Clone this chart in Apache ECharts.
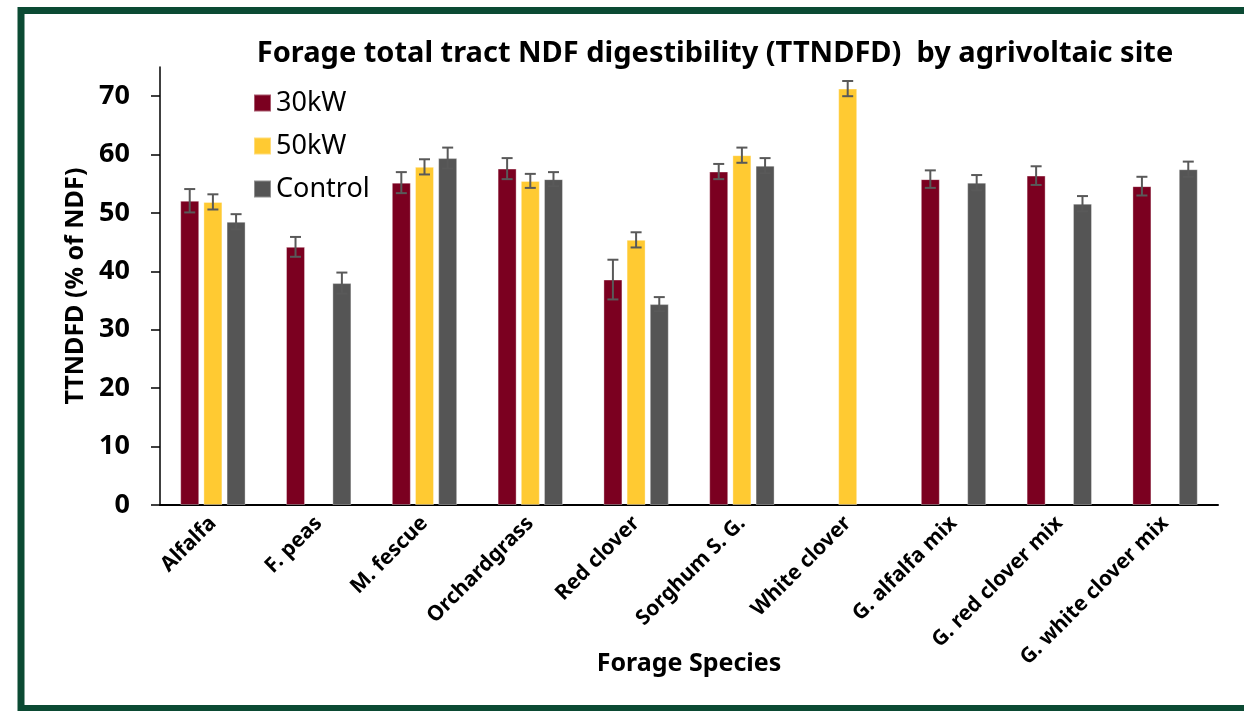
<!DOCTYPE html>
<html>
<head>
<meta charset="utf-8">
<script src="https://cdn.jsdelivr.net/npm/echarts@6/dist/echarts.min.js"></script>
<style>
  html, body { margin: 0; padding: 0; background: #fff; }
  #main { width: 1244px; height: 711px; }
</style>
</head>
<body>
<div id="main"></div>
<script>
// categories and values
const species = ['Alfalfa', 'F. peas', 'M. fescue', 'Orchardgrass', 'Red clover',
  'Sorghum S. G.', 'White clover', 'G. alfalfa mix', 'G. red clover mix', 'G. white clover mix'];
const kw30 = [52.1, 44.2, 55.2, 57.6, 38.6, 57.1, null, 55.8, 56.4, 54.6];
const kw50 = [51.9, null, 57.9, 55.5, 45.4, 59.9, 71.3, null, null, null];
const control = [48.5, 38.0, 59.4, 55.8, 34.4, 58.1, null, 55.2, 51.6, 57.5];
// error bar half-widths (+/-)
const err30 = [2.0, 1.7, 1.8, 1.8, 3.4, 1.3, null, 1.5, 1.6, 1.6];
const err50 = [1.3, null, 1.3, 1.2, 1.3, 1.3, 1.3, null, null, null];
const errCtl = [1.3, 1.8, 1.8, 1.2, 1.2, 1.3, null, 1.3, 1.3, 1.3];
const yTicks = [0, 10, 20, 30, 40, 50, 60, 70];

const font = '"Noto Sans", "Open Sans", sans-serif';
const barW = 19;
const gapPct = 0.22;

// turn value + error into [index, low, high] for the custom series
function errData(vals, errs) {
  const out = [];
  vals.forEach((v, i) => {
    if (v != null && errs[i] != null) out.push([i, v - errs[i], v + errs[i]]);
  });
  return out;
}

function errSeries(k, vals, errs) {
  const dx = (k - 1) * barW * (1 + gapPct);
  return {
    type: 'custom',
    z: 10,
    silent: true,
    encode: { x: 0, y: [1, 2] },
    data: errData(vals, errs),
    renderItem: function (params, api) {
      const lo = api.coord([api.value(0), api.value(1)]);
      const hi = api.coord([api.value(0), api.value(2)]);
      const x = lo[0] + dx;
      const style = { stroke: '#595959', lineWidth: 2 };
      return {
        type: 'group',
        children: [
          { type: 'line', shape: { x1: x, y1: lo[1], x2: x, y2: hi[1] }, style: style },
          { type: 'line', shape: { x1: x - 5.5, y1: lo[1], x2: x + 5.5, y2: lo[1] }, style: style },
          { type: 'line', shape: { x1: x - 5.5, y1: hi[1], x2: x + 5.5, y2: hi[1] }, style: style }
        ]
      };
    }
  };
}

function barSeries(name, data, color) {
  return {
    name: name,
    type: 'bar',
    data: data,
    barWidth: barW,
    barGap: (gapPct * 100) + '%',
    itemStyle: { color: color, borderColor: 'rgba(255,255,255,0.35)', borderWidth: 1 }
  };
}

const chart = echarts.init(document.getElementById('main'));
chart.setOption({
  backgroundColor: '#fff',
  animation: false,
  textStyle: { fontFamily: font },
  title: {
    text: 'Forage total tract NDF digestibility (TTNDFD)  by agrivoltaic site',
    left: 710,
    textAlign: 'center',
    top: 34,
    textStyle: { fontFamily: font, fontSize: 29, fontWeight: 'bold', color: '#000' }
  },
  legend: {
    data: ['30kW', '50kW', 'Control'],
    orient: 'vertical',
    left: 253,
    top: 89,
    padding: 0,
    itemWidth: 17,
    itemHeight: 17,
    itemGap: 15,
    icon: 'rect',
    textStyle: { fontFamily: font, fontSize: 27, lineHeight: 28, color: '#000' }
  },
  grid: { left: 160, right: 26, top: 67, bottom: 206, containLabel: false },
  xAxis: {
    type: 'category',
    data: species,
    name: 'Forage Species',
    nameLocation: 'middle',
    nameGap: 146,
    nameMoveOverlap: false,
    nameTextStyle: { fontFamily: font, fontSize: 25, fontWeight: 'bold', color: '#000' },
    axisLine: { lineStyle: { color: '#000', width: 2 } },
    axisTick: { alignWithLabel: true, length: 6, lineStyle: { color: '#000', width: 1.5 } },
    axisLabel: {
      rotate: 45,
      interval: 0,
      margin: 15,
      fontFamily: font,
      fontSize: 21,
      fontWeight: 'bold',
      color: '#000'
    },
    splitLine: { show: false }
  },
  yAxis: {
    type: 'value',
    min: 0,
    max: 75,
    interval: 10,
    name: 'TTNDFD (% of NDF)',
    nameLocation: 'middle',
    nameGap: 70,
    nameTextStyle: { fontFamily: font, fontSize: 25, fontWeight: 'bold', color: '#000' },
    axisLine: { show: true, lineStyle: { color: '#000', width: 1.5 } },
    axisTick: { show: true, length: 9, customValues: yTicks, lineStyle: { color: '#000', width: 1.5 } },
    axisLabel: {
      customValues: yTicks,
      margin: 30,
      fontFamily: font,
      fontSize: 27,
      fontWeight: 'bold',
      color: '#000'
    },
    splitLine: { show: false }
  },
  graphic: [{
    type: 'rect',
    shape: { x: 21, y: 10.5, width: 1240, height: 698 },
    style: { fill: 'none', stroke: '#0b4a33', lineWidth: 7 },
    z: 100
  }],
  series: [
    barSeries('30kW', kw30, '#7b0020'),
    barSeries('50kW', kw50, '#ffca32'),
    barSeries('Control', control, '#555555'),
    errSeries(0, kw30, err30),
    errSeries(1, kw50, err50),
    errSeries(2, control, errCtl)
  ]
});
</script>
</body>
</html>
